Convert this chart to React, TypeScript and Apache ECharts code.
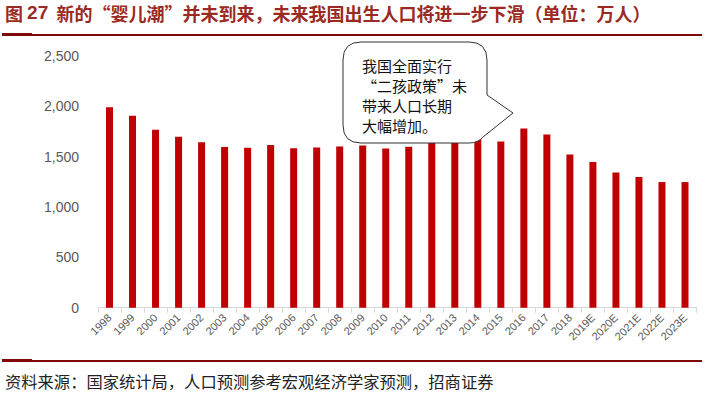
import React, { useEffect, useRef } from "react";
import * as echarts from "echarts";

const years = ["1998","1999","2000","2001","2002","2003","2004","2005","2006","2007","2008","2009","2010","2011","2012","2013","2014","2015","2016","2017","2018","2019E","2020E","2021E","2022E","2023E"];
const births = [1991,1906,1767,1698,1643,1597,1588,1615,1583,1590,1601,1610,1582,1598,1635,1640,1675,1652,1781,1721,1521,1446,1343,1297,1248,1248];
const yTicks = { min: 0, max: 2500, interval: 500 };
const titleMain = "新的“婴儿潮”并未到来，未来我国出生人口将进一步下滑（单位：万人）";
const calloutLines = ["我国全面实行", "“二孩政策”未", "带来人口长期", "大幅增加。"];
const sourceText = "资料来源：国家统计局，人口预测参考宏观经济学家预测，招商证券";

const calloutD = "M361,42 H469 Q487,42 487,60 V95 L513,113 L483,137 Q478,143 469,143 H361 Q343,143 343,125 V60 Q343,42 361,42 Z";
echarts.graphic.registerShape("callout", echarts.graphic.extendPath(calloutD, {}) as any);

export default function App() {
  const ref = useRef<HTMLDivElement>(null);
  useEffect(() => {
    if (!ref.current) return;
    const chart = echarts.init(ref.current, null, { renderer: "svg" });
    const cjk = "'Noto Sans CJK SC', sans-serif";
    chart.setOption({
      animation: false,
      backgroundColor: "#ffffff",
      grid: { left: 98, right: 11.5, top: 56, bottom: 90.3, containLabel: false },
      xAxis: {
        type: "category",
        data: years,
        axisLine: { show: true, lineStyle: { color: "#D9D9D9", width: 1 } },
        axisTick: { show: true, length: 5, lineStyle: { color: "#D9D9D9" } },
        axisLabel: { rotate: 45, fontSize: 11, color: "#595959", margin: 8, interval: 0, fontFamily: "'Liberation Sans', sans-serif" },
      },
      yAxis: {
        type: "value",
        min: yTicks.min,
        max: yTicks.max,
        interval: yTicks.interval,
        splitLine: { show: false },
        axisLine: { show: false },
        axisTick: { show: false },
        axisLabel: {
          fontSize: 14,
          color: "#595959",
          margin: 19,
          fontFamily: "'Liberation Sans', sans-serif",
          formatter: (v: number) => v.toLocaleString("en-US"),
        },
      },
      series: [
        {
          type: "bar",
          data: births,
          barWidth: 7,
          itemStyle: { color: "#C00000" },
        },
      ],
      graphic: [
        {
          type: "text",
          left: 5,
          top: 3,
          style: {
            text: "{a|图 }{b|27}{a|  " + titleMain + "}",
            rich: {
              a: { fontSize: 18, fontWeight: "bold", fill: "#9A2A22", fontFamily: cjk },
              b: { fontSize: 19, fontWeight: "bold", fill: "#9A2A22", fontFamily: "'Liberation Sans', sans-serif" },
            },
          },
        },
        { type: "rect", shape: { x: 2, y: 34, width: 700, height: 2 }, style: { fill: "#7F0A0A" } },
        { type: "rect", shape: { x: 2, y: 33, width: 30, height: 3 }, style: { fill: "#7F0A0A" } },
        { type: "rect", shape: { x: 2, y: 360, width: 700, height: 2 }, style: { fill: "#7F0A0A" } },
        { type: "rect", shape: { x: 2, y: 359, width: 30, height: 3 }, style: { fill: "#7F0A0A" } },
        {
          type: "text",
          left: 5,
          top: 373,
          style: { text: sourceText, fontSize: 16.3, fill: "#222", fontFamily: cjk },
        },
        {
          type: "callout",
          x: 0,
          y: 0,
          z: 100,
          style: { fill: "#ffffff", stroke: "#333333", lineWidth: 1 },
        },
        {
          type: "text",
          x: 362,
          y: 55,
          z: 101,
          style: {
            text: calloutLines.join("\n"),
            fontSize: 15,
            lineHeight: 20,
            fill: "#111",
            fontFamily: cjk,
            textAlign: "left",
            textVerticalAlign: "top",
          },
        },
      ],
    });
    return () => chart.dispose();
  }, []);
  return (
    <div
      ref={ref}
      style={{ position: "fixed", left: 0, top: 0, width: 708, height: 398, background: "#fff" }}
    />
  );
}
